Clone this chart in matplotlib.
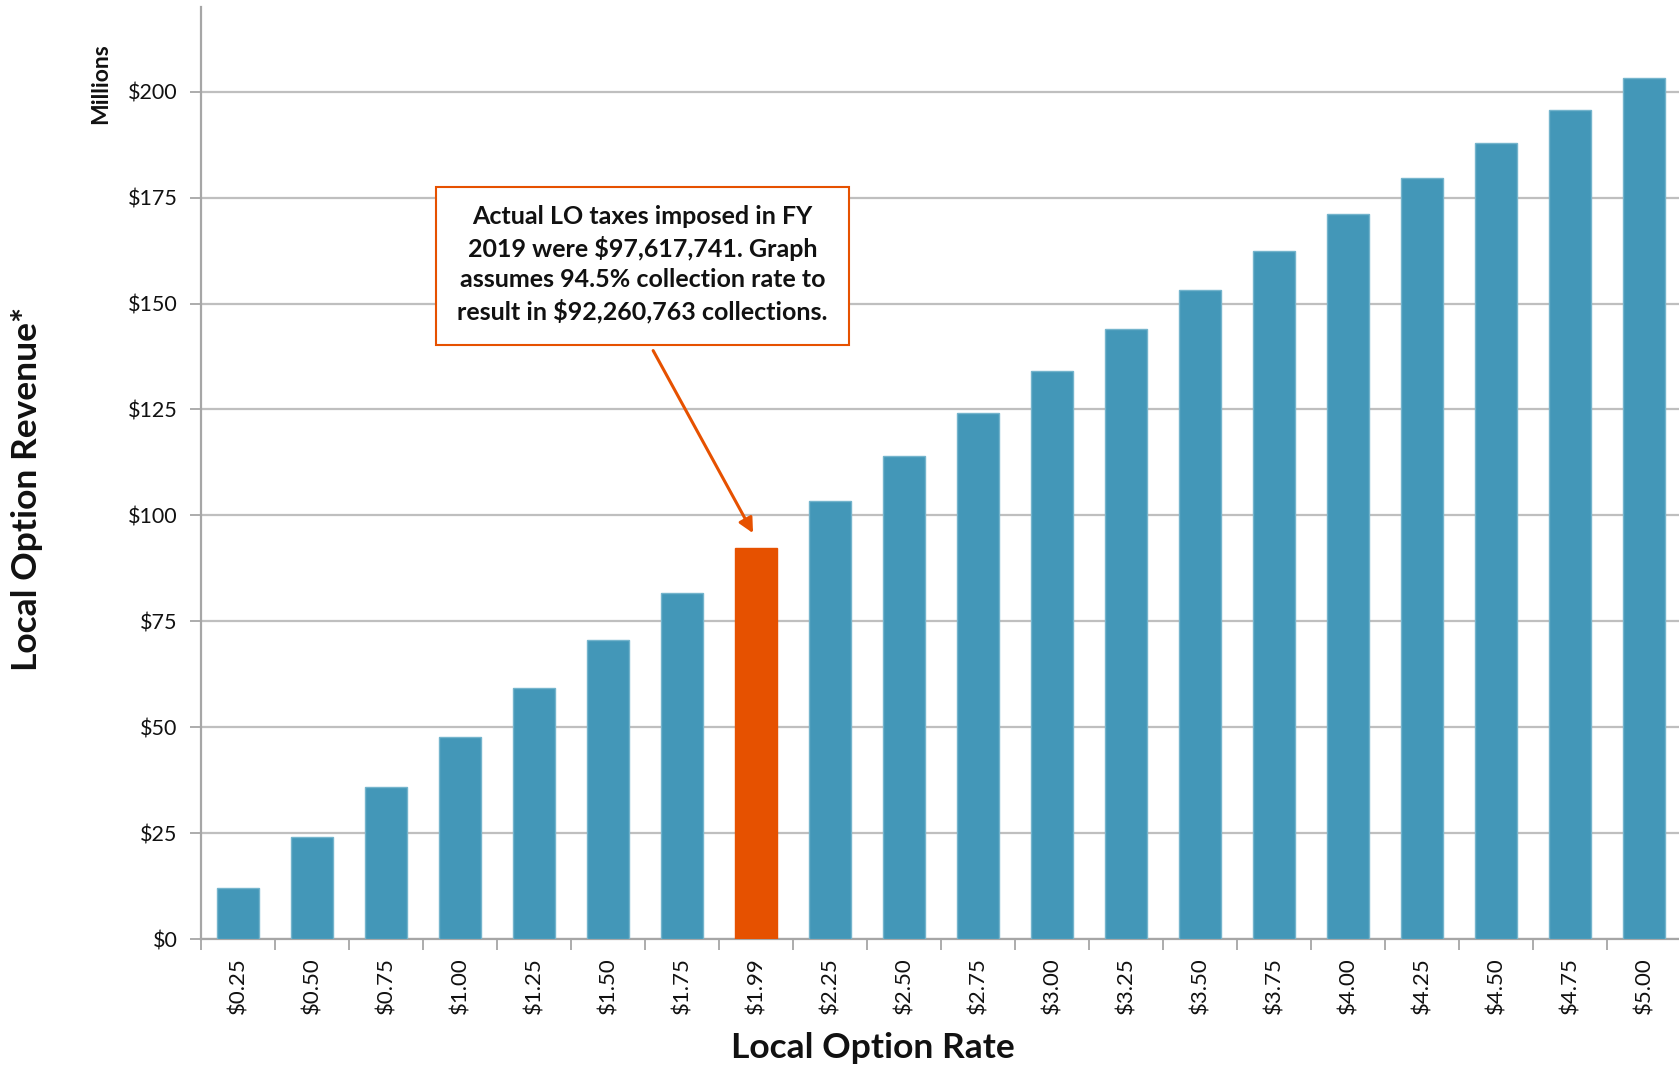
import matplotlib
matplotlib.use("Agg")
import matplotlib.pyplot as plt
from matplotlib.patches import Rectangle
from matplotlib.ticker import FixedLocator, FuncFormatter

plt.rcParams['font.family'] = ['Lato', 'DejaVu Sans']

# Local option rate per category and the revenue it raises ($ millions)
rates = ["$0.25", "$0.50", "$0.75", "$1.00", "$1.25", "$1.50", "$1.75", "$1.99",
         "$2.25", "$2.50", "$2.75", "$3.00", "$3.25", "$3.50", "$3.75", "$4.00",
         "$4.25", "$4.50", "$4.75", "$5.00"]
revenue = [12.0, 24.0, 35.8, 47.6, 59.2, 70.5, 81.7, 92.26,
           103.4, 113.9, 124.1, 134.1, 143.9, 153.2, 162.3, 171.2,
           179.7, 188.0, 195.8, 203.3]
current_rate = "$1.99"
y_ticks = [0, 25, 50, 75, 100, 125, 150, 175, 200]

note = ("Actual LO taxes imposed in FY\n"
        "2019 were $97,617,741. Graph\n"
        "assumes 94.5% collection rate to\n"
        "result in $92,260,763 collections.")

TEAL = "#4397B8"
TEAL_EDGE = "#74B4CC"
ORANGE = "#E65100"
GRID = "#BFBFBF"
AXIS = "#A6A6A6"

W, H = 1679, 1070
fig = plt.figure(figsize=(W / 100, H / 100), dpi=100)
ax = fig.add_axes([201 / W, 1 - 939 / H, 1480 / W, 932 / H])

x = list(range(len(rates)))
colors = [ORANGE if r == current_rate else TEAL for r in rates]
edges = [ORANGE if r == current_rate else TEAL_EDGE for r in rates]
ax.bar(x, revenue, width=0.57, color=colors, edgecolor=edges, linewidth=1.0, zorder=3)

ax.set_xlim(-0.5, len(rates) - 0.5)
ax.set_ylim(0, 220)

# y axis: dollar ticks with horizontal gridlines
ax.yaxis.set_major_locator(FixedLocator(y_ticks))
ax.yaxis.set_major_formatter(FuncFormatter(lambda v, p: f"${v:.0f}"))
ax.grid(axis="y", color=GRID, linewidth=1.6, zorder=0)
ax.tick_params(axis="y", direction="out", length=8, width=1.3, color=AXIS,
               labelsize=15.5, pad=9, labelcolor="#111111")

# x axis: labels at bar centres, tick marks on category boundaries
ax.set_xticks(x)
ax.set_xticklabels(rates, rotation=90)
ax.set_xticks([i - 0.5 for i in range(len(rates) + 1)], minor=True)
ax.tick_params(axis="x", which="major", length=0, labelsize=16, pad=13, labelcolor="#111111")
ax.tick_params(axis="x", which="minor", direction="out", length=8, width=1.3, color=AXIS)

for side in ("top", "right"):
    ax.spines[side].set_visible(False)
for side in ("left", "bottom"):
    ax.spines[side].set_color(AXIS)
    ax.spines[side].set_linewidth(1.6)

# Callout box with the explanatory note
bx0, bx1 = 2.676, 8.257
by0, by1 = 140.3, 177.6
ax.add_patch(Rectangle((bx0, by0), bx1 - bx0, by1 - by0, facecolor="white",
                       edgecolor=ORANGE, linewidth=1.5, zorder=5))
ax.text((bx0 + bx1) / 2, (by0 + by1) / 2 + 0.3, note, ha="center", va="center",
        fontsize=18, fontweight="bold", linespacing=1.38, color="#111111", zorder=6)

# Arrow from the callout down to the current-rate bar
idx = rates.index(current_rate)
ax.annotate("", xy=(idx - 0.04, 95.8), xytext=(5.61, 138.9),
            arrowprops=dict(arrowstyle="-|>", color=ORANGE, lw=2.2,
                            mutation_scale=22, shrinkA=0, shrinkB=0),
            zorder=6)

fig.text(873 / W, 1 - 1048 / H, "Local Option Rate", ha="center", va="center",
         fontsize=25.5, fontweight="bold", color="#111111")
fig.text(27 / W, 1 - 489 / H, "Local Option Revenue*", ha="center", va="center",
         rotation=90, fontsize=25.5, fontweight="bold", color="#111111")
fig.text(101 / W, 1 - 84 / H, "Millions", ha="center", va="center",
         rotation=90, fontsize=16.5, fontweight="bold", color="#111111")

fig.savefig("out.png", dpi=100, facecolor="white")
